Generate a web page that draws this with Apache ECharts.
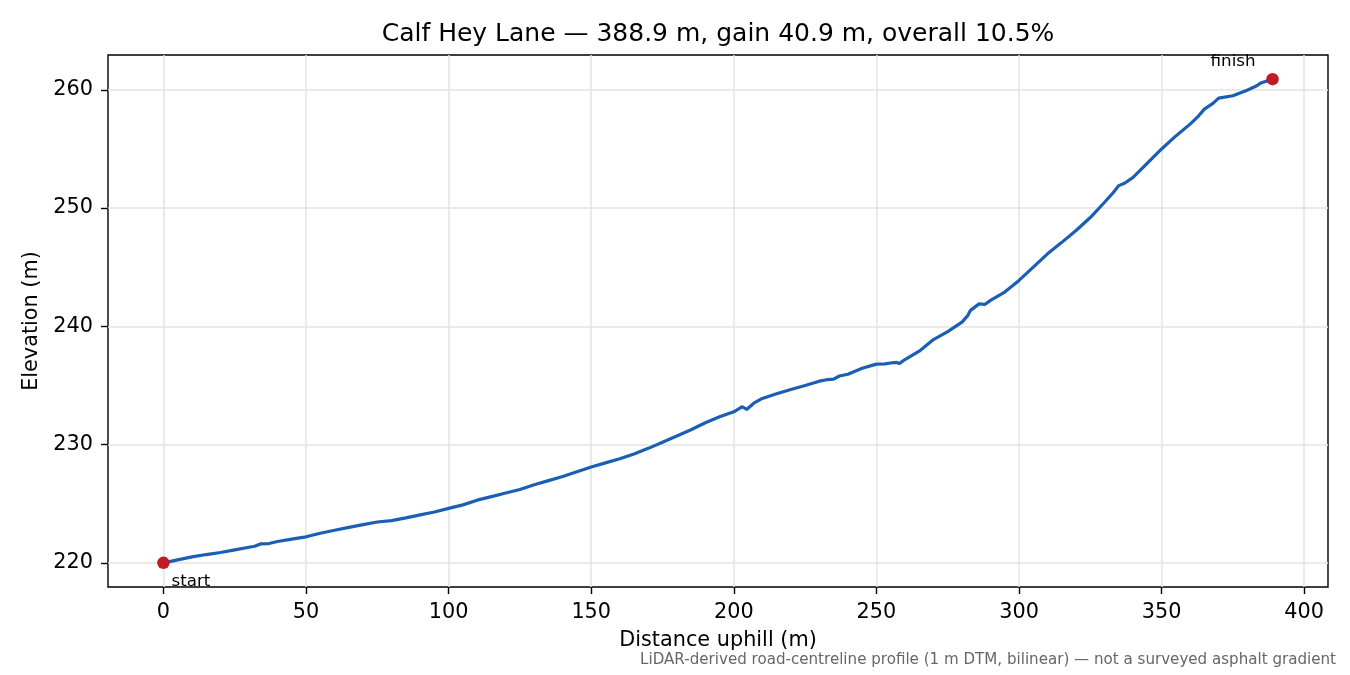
<!DOCTYPE html>
<html>
<head>
<meta charset="utf-8">
<script src="https://cdn.jsdelivr.net/npm/echarts@6/dist/echarts.min.js"></script>
<style>html,body{margin:0;padding:0;background:#fff;}#c{width:1350px;height:675px;}</style>
</head>
<body>
<div id="c"></div>
<script>
const dist = [0,5,10,15,20,25,30,32,34,37,40,45,50,55,60,65,70,75,80,85,90,95,100,105,110,115,120,125,130,135,140,145,150,155,160,165,170,175,180,185,190,195,200,203,204.5,207,210,215,220,225,230,233,235,237,240,245,250,253,255,257,258,260,265,270,275,280,282,283,286,288,290,295,300,305,310,315,320,325,330,333,335,337,340,345,350,355,360,363,365,368,370,375,380,383,385,388.9];
const elev = [220.0,220.25,220.5,220.7,220.87,221.1,221.32,221.4,221.6,221.63,221.8,222.0,222.2,222.5,222.75,223.0,223.23,223.45,223.57,223.8,224.05,224.3,224.6,224.9,225.3,225.6,225.9,226.2,226.6,226.95,227.3,227.7,228.1,228.45,228.8,229.2,229.68,230.2,230.72,231.25,231.84,232.35,232.77,233.2,232.97,233.5,233.9,234.3,234.66,235.0,235.36,235.5,235.53,235.8,235.95,236.45,236.8,236.82,236.9,236.95,236.85,237.19,237.9,238.88,239.55,240.36,240.9,241.35,241.9,241.85,242.19,242.9,243.88,245.0,246.13,247.1,248.1,249.2,250.49,251.3,251.9,252.1,252.6,253.8,255.0,256.1,257.1,257.8,258.37,258.85,259.3,259.5,259.97,260.3,260.6,260.9];
const xTicks = [0,50,100,150,200,250,300,350,400];
const yTicks = [220,230,240,250,260];
const endpointNames = ['start','finish'];
const titleText = 'Calf Hey Lane \u2014 388.9 m, gain 40.9 m, overall 10.5%';
const footnote = 'LiDAR-derived road-centreline profile (1 m DTM, bilinear) \u2014 not a surveyed asphalt gradient';

const FONT = 'DejaVu Sans';
const lineData = dist.map((d, i) => [d, elev[i]]);
const n = dist.length - 1;
const span = dist[n] - dist[0];
const rise = elev[n] - elev[0];
const xMin = dist[0] - 0.05 * span, xMax = dist[n] + 0.05 * span;
const yMin = elev[0] - 0.05 * rise, yMax = elev[n] + 0.05 * rise;

const chart = echarts.init(document.getElementById('c'));
chart.setOption({
  animation: false,
  backgroundColor: '#ffffff',
  textStyle: { fontFamily: FONT },
  title: {
    text: titleText, left: 713, top: 17, textAlign: 'center',
    textStyle: { fontFamily: FONT, fontSize: 25, fontWeight: 'normal', color: '#000' }
  },
  graphic: [{
    type: 'text', right: 14, top: 653,
    style: { text: footnote, font: '15.1px "DejaVu Sans"', fill: '#666666' }
  }],
  grid: { left: 108, right: 22, top: 55, bottom: 88, show: true, borderColor: '#000', borderWidth: 1.4, backgroundColor: 'transparent' },
  xAxis: {
    type: 'value', min: xMin, max: xMax,
    name: 'Distance uphill (m)', nameLocation: 'middle', nameGap: 43,
    nameTextStyle: { fontFamily: FONT, fontSize: 20.8, color: '#000' },
    axisLine: { show: false, onZero: false },
    axisTick: { show: true, inside: false, length: 7, lineStyle: { color: '#000', width: 1.4 }, customValues: xTicks },
    axisLabel: { fontFamily: FONT, fontSize: 20.8, color: '#000', margin: 15, customValues: xTicks, formatter: v => String(v) },
    splitLine: { show: true, lineStyle: { color: '#e3e3e3', width: 1.5 } }
  },
  yAxis: {
    type: 'value', min: yMin, max: yMax,
    name: 'Elevation (m)', nameLocation: 'middle', nameGap: 60, nameRotate: 90,
    nameTextStyle: { fontFamily: FONT, fontSize: 20.8, color: '#000' },
    axisLine: { show: false, onZero: false },
    axisTick: { show: true, inside: false, length: 7, lineStyle: { color: '#000', width: 1.4 }, customValues: yTicks },
    axisLabel: { fontFamily: FONT, fontSize: 20.8, color: '#000', margin: 15, customValues: yTicks, formatter: v => String(v) },
    splitLine: { show: true, lineStyle: { color: '#e3e3e3', width: 1.5 } }
  },
  series: [
    {
      type: 'line', data: lineData, showSymbol: false, symbol: 'none',
      lineStyle: { color: '#1a5fb4', width: 3.2 }, z: 3
    },
    {
      type: 'scatter', symbolSize: 12.5, z: 4,
      itemStyle: { color: '#c01c28', opacity: 1 },
      data: [
        { value: [dist[0], elev[0]], name: endpointNames[0],
          label: { show: true, position: 'inside', offset: [27.5, 19], formatter: '{b}', fontFamily: FONT, fontSize: 16.7, color: '#000' } },
        { value: [dist[n], elev[n]], name: endpointNames[1],
          label: { show: true, position: 'inside', offset: [-39.5, -18], formatter: '{b}', fontFamily: FONT, fontSize: 16.7, color: '#000' } }
      ]
    }
  ]
});
</script>
</body>
</html>
